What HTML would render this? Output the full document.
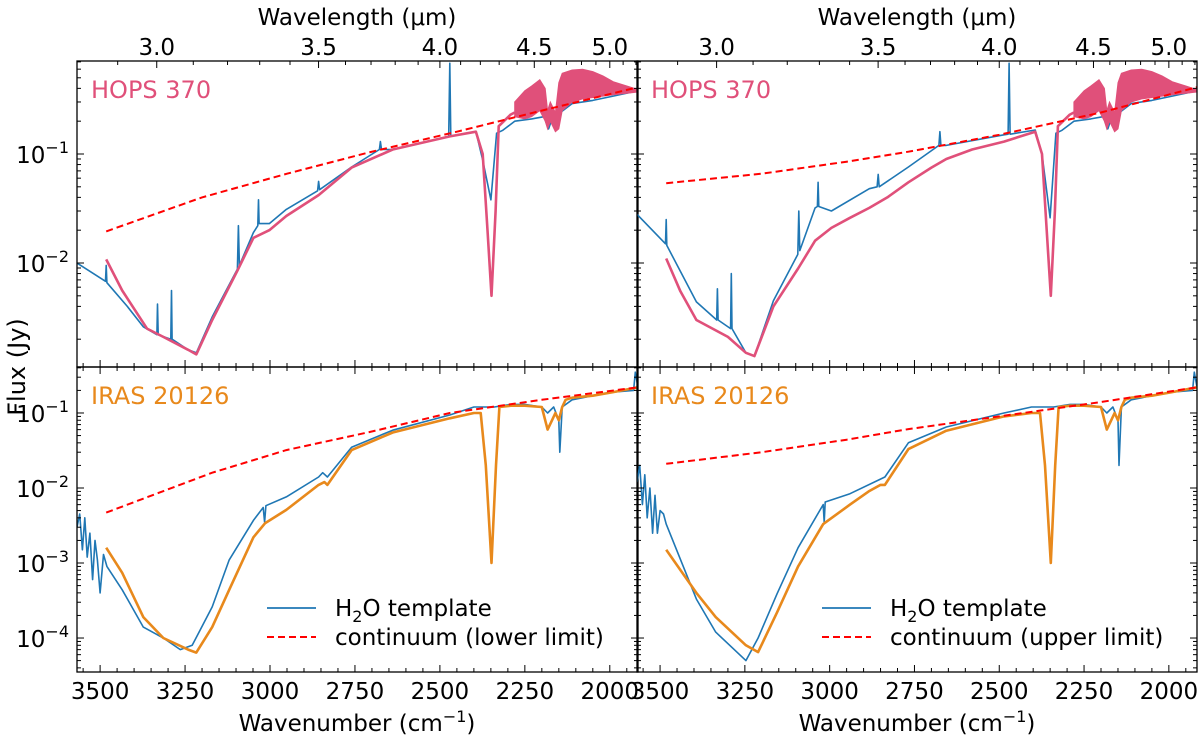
<!DOCTYPE html>
<html><head><meta charset="utf-8">
<style>
html,body{margin:0;padding:0;background:#fff;}
svg text{font-family:"DejaVu Sans","Liberation Sans",sans-serif;}
</style></head>
<body>
<svg id="chart" width="1200" height="738" viewBox="0 0 1200 738" xmlns="http://www.w3.org/2000/svg">
<text x="17" y="367" font-size="24" text-anchor="middle" transform="rotate(-90 17 367)" dy="8">Flux (Jy)</text>
<text x="357" y="25" font-size="23" text-anchor="middle">Wavelength (μm)</text>
<text x="917" y="25" font-size="23" text-anchor="middle">Wavelength (μm)</text>
<text x="357" y="731" font-size="23" text-anchor="middle">Wavenumber (cm<tspan dy="-9" font-size="16">−1</tspan><tspan dy="9">)</tspan></text>
<text x="917" y="731" font-size="23" text-anchor="middle">Wavenumber (cm<tspan dy="-9" font-size="16">−1</tspan><tspan dy="9">)</tspan></text>
</svg>
<script>
// ---------- data ----------
const wnTicks = [3500,3250,3000,2750,2500,2250,2000];
const lamTicks = [3.0,3.5,4.0,4.5,5.0];
const topDecades = [-1,-2];
const botDecades = [-1,-2,-3,-4];

const tlBlueWn = [3568,3484,3482,3480,3420,3373,3333,3331,3329,3292,3290,3288,3241,3217,3170,3096,3093,3090,3049,3036,3034,3032,3002,2952,2860,2857,2854,2760,2678,2675,2672,2639,2474,2471,2468,2394,2374,2350,2333,2315,2280,2230,2194,2180,2170,2111,2050,1990,1917];
const tlBlueF = [0.0100,0.0068,0.0095,0.0066,0.0040,0.0026,0.0022,0.0042,0.0022,0.0020,0.0056,0.0020,0.0016,0.0015,0.0032,0.0088,0.022,0.0095,0.019,0.022,0.038,0.023,0.023,0.031,0.046,0.056,0.047,0.076,0.11,0.13,0.11,0.11,0.145,0.68,0.145,0.16,0.088,0.038,0.155,0.165,0.2,0.21,0.22,0.17,0.21,0.29,0.31,0.34,0.38];
const tlModelWn = [3482,3435,3362,3314,3241,3217,3170,3096,3049,3002,2952,2857,2760,2639,2471,2394,2374,2360,2348,2336,2327,2292,2280];
const tlModelF = [0.0108,0.0056,0.0025,0.0021,0.0016,0.00145,0.003,0.0085,0.017,0.02,0.027,0.042,0.075,0.11,0.145,0.16,0.1,0.02,0.005,0.03,0.18,0.23,0.24];
const tlContWn = [3482,3200,2950,2705,2450,2200,1917];
const tlContF = [0.0195,0.04,0.066,0.104,0.16,0.25,0.41];

const trBlueWn = [3568,3484,3482,3480,3393,3333,3331,3329,3292,3290,3288,3247,3222,3166,3094,3091,3088,3043,3036,3034,3032,2995,2883,2860,2857,2854,2768,2678,2675,2672,2656,2486,2474,2471,2468,2394,2374,2350,2333,2315,2280,2230,2194,2180,2170,2111,2050,1990,1917];
const trBlueF = [0.028,0.0150,0.025,0.0145,0.0044,0.0030,0.0058,0.0030,0.0025,0.0080,0.0025,0.0015,0.0014,0.0045,0.012,0.03,0.013,0.032,0.033,0.055,0.033,0.030,0.048,0.05,0.065,0.05,0.076,0.12,0.16,0.12,0.12,0.15,0.152,0.68,0.152,0.166,0.1,0.026,0.155,0.165,0.2,0.21,0.22,0.17,0.21,0.29,0.31,0.34,0.38];
const trModelWn = [3482,3440,3393,3300,3247,3222,3166,3093,3043,2995,2940,2883,2830,2768,2700,2656,2580,2486,2394,2374,2360,2348,2336,2327,2292,2280];
const trModelF = [0.011,0.0055,0.003,0.0021,0.0015,0.0014,0.004,0.0089,0.016,0.021,0.026,0.032,0.040,0.055,0.075,0.09,0.11,0.13,0.16,0.1,0.02,0.005,0.03,0.18,0.23,0.24];
const trContWn = [3482,3200,2950,2768,2500,2200,1917];
const trContF = [0.054,0.066,0.085,0.105,0.15,0.24,0.41];

const fillWn = [2280,2250,2230,2206,2190,2183,2175,2160,2150,2140,2111,2080,2050,2020,1990,1950,1917];
const fillHi = [0.30,0.38,0.42,0.48,0.40,0.25,0.30,0.24,0.45,0.55,0.59,0.60,0.57,0.52,0.46,0.42,0.39];
const fillLo = [0.22,0.21,0.22,0.25,0.20,0.17,0.20,0.16,0.17,0.25,0.30,0.32,0.33,0.34,0.35,0.36,0.37];

const blBlueWn = [3568,3560,3552,3545,3538,3530,3522,3515,3508,3500,3490,3480,3435,3373,3314,3264,3229,3170,3120,3049,3020,3016,3012,2952,2857,2845,2831,2760,2639,2471,2400,2380,2340,2291,2250,2200,2183,2165,2150,2147,2140,2111,2050,1990,1930,1925,1917];
const blBlueF = [0.003,0.0045,0.0015,0.004,0.0012,0.0025,0.0006,0.002,0.0011,0.0004,0.0013,0.0009,0.00044,0.00014,0.0001,0.00007,0.00008,0.00026,0.0011,0.0037,0.0055,0.0035,0.0058,0.0076,0.014,0.016,0.014,0.035,0.059,0.094,0.12,0.12,0.12,0.13,0.13,0.12,0.1,0.12,0.08,0.03,0.12,0.15,0.17,0.19,0.2,0.35,0.22];
const blModelWn = [3482,3435,3373,3314,3241,3217,3170,3120,3049,3014,2952,2857,2840,2831,2760,2639,2471,2400,2380,2365,2348,2335,2325,2291,2250,2200,2183,2170,2160,2150,2140,2130,2111,2050,1990,1917];
const blModelF = [0.0016,0.00074,0.00019,0.0001,0.00007,0.000064,0.00014,0.00044,0.0022,0.0034,0.0051,0.011,0.012,0.011,0.032,0.055,0.085,0.1,0.1,0.02,0.001,0.02,0.12,0.125,0.125,0.12,0.06,0.08,0.1,0.08,0.12,0.15,0.16,0.17,0.19,0.22];
const blContWn = [3482,3170,2952,2705,2471,2200,1917];
const blContF = [0.0047,0.016,0.032,0.056,0.1,0.15,0.22];

const brBlueWn = [3568,3560,3552,3545,3538,3530,3522,3515,3508,3500,3490,3482,3393,3336,3247,3211,3155,3093,3019,3016,3013,2940,2837,2768,2656,2486,2405,2380,2340,2291,2250,2200,2183,2165,2150,2147,2140,2111,2050,1990,1930,1925,1917];
const brBlueF = [0.012,0.02,0.006,0.015,0.004,0.01,0.0025,0.008,0.0025,0.005,0.0045,0.0033,0.00033,0.00012,0.00005,0.0001,0.00039,0.0016,0.006,0.0035,0.0065,0.0084,0.014,0.04,0.065,0.1,0.12,0.12,0.12,0.13,0.13,0.12,0.1,0.12,0.08,0.02,0.12,0.15,0.17,0.19,0.2,0.35,0.22];
const brModelWn = [3482,3393,3336,3247,3211,3155,3093,3019,2940,2885,2850,2837,2768,2656,2486,2405,2380,2365,2348,2335,2325,2291,2250,2200,2183,2170,2160,2150,2140,2130,2111,2050,1990,1917];
const brModelF = [0.0015,0.0004,0.00019,0.00008,0.000065,0.00022,0.0009,0.0033,0.006,0.009,0.011,0.011,0.033,0.058,0.09,0.1,0.1,0.02,0.001,0.02,0.12,0.125,0.125,0.12,0.06,0.08,0.1,0.08,0.12,0.15,0.16,0.17,0.19,0.22];
const brContWn = [3482,3200,2950,2768,2500,2200,1917];
const brContF = [0.021,0.03,0.044,0.061,0.09,0.14,0.22];

// ---------- drawing ----------
const NS = "http://www.w3.org/2000/svg";
const svg = document.getElementById('chart');
const WN_MAX = 3568, WN_MIN = 1917;
const BLUE = "#1f77b4", PINK = "#e0507a", ORANGE = "#e8891c", RED = "#ff0000";

function mk(tag, attrs, parent) {
  const e = document.createElementNS(NS, tag);
  for (const k in attrs) e.setAttribute(k, attrs[k]);
  (parent || svg).appendChild(e);
  return e;
}
function makePanel(x0, x1, y0, y1, lt, lb) {
  return {
    x0, x1, y0, y1,
    sx: wn => x0 + (WN_MAX - wn) / (WN_MAX - WN_MIN) * (x1 - x0),
    sy: f => y0 + (lt - Math.log10(f)) / (lt - lb) * (y1 - y0),
    lt, lb
  };
}
const pTL = makePanel(77, 638, 61, 367, -0.147, -2.954);
const pTR = makePanel(637, 1197, 61, 367, -0.147, -2.954);
const pBL = makePanel(77, 638, 367, 672, -0.387, -4.453);
const pBR = makePanel(637, 1197, 367, 672, -0.387, -4.453);

function pathD(p, wn, f) {
  return wn.map((w, i) => (i ? 'L' : 'M') + p.sx(w).toFixed(1) + ',' + p.sy(f[i]).toFixed(1)).join('');
}
function clipFor(p, id) {
  const cp = mk('clipPath', {id});
  mk('rect', {x: p.x0, y: p.y0, width: p.x1 - p.x0, height: p.y1 - p.y0}, cp);
  return 'url(#' + id + ')';
}
function drawPanel(p, id, blueWn, blueF, modWn, modF, modColor, contWn, contF, hasFill, label, isLeft, isTop) {
  const g = mk('g', {'clip-path': clipFor(p, 'clip-' + id)});
  
  
  const b = mk('path', {d: pathD(p, blueWn, blueF), fill: 'none', stroke: BLUE, 'stroke-width': 1.6, 'stroke-linejoin': 'round'}, g);
  
  
  const m = mk('path', {d: pathD(p, modWn, modF), fill: 'none', stroke: modColor, 'stroke-width': 2.6, 'stroke-linejoin': 'round'}, g);
  
  
  if (hasFill) {
    let d = fillWn.map((w, i) => (i ? 'L' : 'M') + p.sx(w).toFixed(1) + ',' + p.sy(fillHi[i]).toFixed(1)).join('');
    for (let i = fillWn.length - 1; i >= 0; i--) d += 'L' + p.sx(fillWn[i]).toFixed(1) + ',' + p.sy(fillLo[i]).toFixed(1);
    const fa = mk('path', {d: d + 'Z', fill: PINK, stroke: PINK, 'stroke-width': 1}, g);
    
    
  }
  const c = mk('path', {d: pathD(p, contWn, contF), fill: 'none', stroke: RED, 'stroke-width': 2, 'stroke-dasharray': '7,4'}, g);
  
  

  const fr = mk('rect', {x: p.x0, y: p.y0, width: p.x1 - p.x0, height: p.y1 - p.y0, fill: 'none', stroke: '#000', 'stroke-width': 1.3});
  
  

  const tg = mk('g', {stroke: '#000', 'stroke-width': 1});
  
  
  for (let w = 3550; w >= 1950; w -= 50) {
    const x = p.sx(w), major = w % 250 === 0, L = major ? 7 : 4;
    mk('line', {x1: x, x2: x, y1: p.y1, y2: p.y1 - L}, tg);
    if (!isTop) mk('line', {x1: x, x2: x, y1: p.y0, y2: p.y0 + L}, tg);
  }
  if (isTop) {
    for (let l = 2.8; l <= 5.25; l += 0.1) {
      const lr = Math.round(l * 10) / 10;
      const w = 10000 / lr;
      if (w > WN_MAX || w < WN_MIN) continue;
      const x = p.sx(w), major = Math.abs(lr * 2 - Math.round(lr * 2)) < 1e-6, L = major ? 7 : 4;
      mk('line', {x1: x, x2: x, y1: p.y0, y2: p.y0 + L}, tg);
    }
  }
  for (let d = Math.floor(p.lb); d <= Math.ceil(p.lt); d++) {
    for (let k = 1; k <= 9; k++) {
      const v = Math.log10(k) + d;
      if (v > p.lt || v < p.lb) continue;
      const y = p.y0 + (p.lt - v) / (p.lt - p.lb) * (p.y1 - p.y0), L = k === 1 ? 7 : 4;
      mk('line', {x1: p.x0, x2: p.x0 + L, y1: y, y2: y}, tg);
      mk('line', {x1: p.x1, x2: p.x1 - L, y1: y, y2: y}, tg);
    }
  }
  const lab = mk('text', {x: p.x0 + 14, y: p.y0 + 37, 'font-size': 24, fill: modColor});
  lab.textContent = label;
  
  
  if (isLeft) {
    (isTop ? topDecades : botDecades).forEach(d => {
      const y = p.sy(Math.pow(10, d));
      const t = mk('text', {x: p.x0 - 8, y: y + 9, 'font-size': 23, 'text-anchor': 'end'});
      t.innerHTML = '10<tspan dy="-10" font-size="16">−' + (-d) + '</tspan>';
      
      
    });
  }
  if (isTop) {
    lamTicks.forEach(l => {
      const t = mk('text', {x: p.sx(10000 / l), y: 55, 'font-size': 23, 'text-anchor': 'middle'});
      t.textContent = l.toFixed(1);
      
      
    });
  } else {
    wnTicks.forEach(w => {
      const t = mk('text', {x: p.sx(w), y: 699, 'font-size': 23, 'text-anchor': 'middle'});
      t.textContent = w;
      
      
    });
  }
}
drawPanel(pTL, 'hops-lower', tlBlueWn, tlBlueF, tlModelWn, tlModelF, PINK, tlContWn, tlContF, true, 'HOPS 370', true, true);
drawPanel(pTR, 'hops-upper', trBlueWn, trBlueF, trModelWn, trModelF, PINK, trContWn, trContF, true, 'HOPS 370', false, true);
drawPanel(pBL, 'iras-lower', blBlueWn, blBlueF, blModelWn, blModelF, ORANGE, blContWn, blContF, false, 'IRAS 20126', true, false);
drawPanel(pBR, 'iras-upper', brBlueWn, brBlueF, brModelWn, brModelF, ORANGE, brContWn, brContF, false, 'IRAS 20126', false, false);

function legend(x, txt, id) {
  const g = mk('g', {});
  
  
  mk('line', {x1: x, x2: x + 49, y1: 608, y2: 608, stroke: BLUE, 'stroke-width': 1.8}, g);
  mk('line', {x1: x, x2: x + 49, y1: 637, y2: 637, stroke: RED, 'stroke-width': 2, 'stroke-dasharray': '7,4'}, g);
  const t1 = mk('text', {x: x + 68, y: 616, 'font-size': 23}, g);
  t1.innerHTML = 'H<tspan dy="6" font-size="16">2</tspan><tspan dy="-6">O template</tspan>';
  
  
  const t2 = mk('text', {x: x + 68, y: 645, 'font-size': 23}, g);
  t2.textContent = txt;
  
  
}
legend(267, 'continuum (lower limit)', 'legend-left');
legend(822, 'continuum (upper limit)', 'legend-right');
</script>
</body></html>
